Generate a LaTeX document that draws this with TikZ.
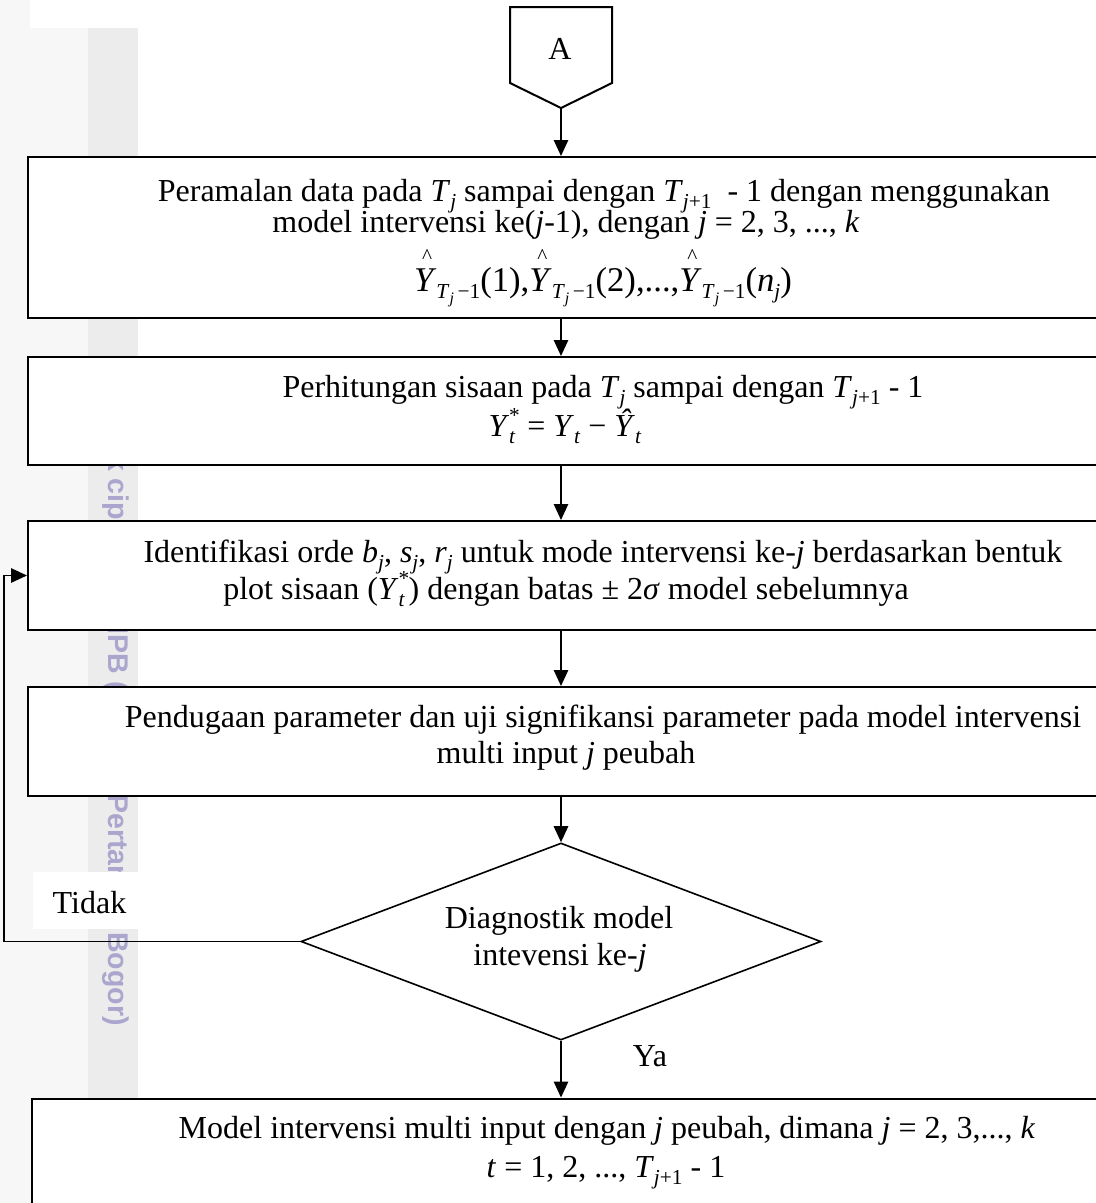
\documentclass[tikz,border=0pt]{standalone}
\usepackage{fontspec}
\setmainfont{Liberation Serif}
\newfontfamily\wmfont{Liberation Sans}
\usetikzlibrary{arrows.meta,shapes.geometric,fit}
\definecolor{lgray}{RGB}{247,247,247}
\definecolor{mgray}{RGB}{236,236,236}
\definecolor{wmcol}{RGB}{170,166,206}
\newcommand\mysub[1]{\raisebox{-0.22em}{\fontsize{8}{8}\selectfont #1}}
\newcommand\mysubsub[1]{\raisebox{-0.25em}{\fontsize{6}{6}\selectfont #1}}
\newcommand\mysupsub[2]{\makebox[0pt][l]{\raisebox{0.42em}{\fontsize{8}{8}\selectfont #1}}\raisebox{-0.22em}{\fontsize{8}{8}\selectfont #2}\hspace{0.12em}}
\newcommand\myYhat{\makebox[0pt][l]{\raisebox{10.5pt}{\hspace{3pt}\fontsize{8}{8}\selectfont\textasciicircum}}\textit{Y}}
\newcommand\mysubT{\mysub{\textit{T}\mysubsub{\textit{j}}\,−1}}
\begin{document}
\begin{tikzpicture}[x=0.375pt,y=-0.375pt,
  txt/.style={inner sep=0pt, anchor=base, font=\fontsize{12}{14}\selectfont},
  box/.style={draw=black, line width=0.75pt, fill=white, inner sep=0pt},
  arr/.style={-{Triangle[length=6pt,width=5.4pt]}, line width=0.6pt}]
\useasboundingbox (0,0) rectangle (1096,1203);
\clip (0,0) rectangle (1096,1203);
% background strips (scan margin)
\fill[lgray] (0,0) rectangle (138,1203);
\fill[white] (30,0) rectangle (138,28);
\fill[mgray] (88,28) rectangle (138,1203);
\node[rotate=-90, anchor=base west, inner sep=0pt, text=wmcol,
      font=\wmfont\bfseries\fontsize{10.7}{12}\selectfont] (wm) at (108,418)
      {Hak cipta milik IPB (Institut Pertanian Bogor)};
\fill[white] (33,872) rectangle (138,929);
% off-page connector A
\draw[line width=0.75pt, fill=white] (510,7) -- (612,7) -- (612,83) -- (561,108) -- (510,83) -- cycle;
\coordinate (Atip) at (561,108);
\node[txt] (A) at (560,59) {A};
% boxes
\node[box, fit={(28,157) (1110,318)}] (b1) {};
\node[box, fit={(28,357) (1110,465)}] (b2) {};
\node[box, fit={(28,521) (1110,630)}] (b3) {};
\node[box, fit={(28,687) (1110,796)}] (b4) {};
\node[box, line width=1.1pt, fit={(32,1099) (1110,1220)}] (b5) {};
\node[diamond, draw, line width=0.6pt, fill=white, inner sep=0pt,
      minimum width=195pt, minimum height=73.875pt] (dia) at (561,941.5) {};
% connectors
\coordinate (ax) at (561,0);
\coordinate (lx) at (4,575.5);
\draw[arr] (Atip) -- (b1.north -| Atip);
\draw[arr] (b1.south -| ax) -- (b2.north -| ax);
\draw[arr] (b2.south -| ax) -- (b3.north -| ax);
\draw[arr] (b3.south -| ax) -- (b4.north -| ax);
\draw[arr] (b4.south -| ax) -- (dia.north);
\draw[arr] (dia.south) -- (b5.north -| ax);
\draw[arr] (dia.west) -| (lx) -- (b3.west);
% texts
\node[txt] (t11) at (604,201) {Peramalan data pada \textit{T}\mysub{\textit{j}} sampai dengan \textit{T}\mysub{\textit{j}+1}\ \ - 1 dengan menggunakan};
\node[txt] (t12) at (566,232) {model intervensi ke(\textit{j}-1), dengan \textit{j} = 2, 3, ..., \textit{k}};
\node[txt, font=\fontsize{13}{15}\selectfont] (t13) at (603,291) {\myYhat\mysubT(1),\myYhat\mysubT(2),...,\myYhat\mysubT(\textit{n}\mysub{\textit{j}})};
\node[txt] (t21) at (603,397) {Perhitungan sisaan pada \textit{T}\mysub{\textit{j}} sampai dengan \textit{T}\mysub{\textit{j}+1} - 1};
\node[txt] (t22) at (565,436) {\textit{Y}\mysupsub{*}{\textit{t}}\ = \textit{Y}\mysub{\textit{t}}\ − \textit{Ŷ}\mysub{\textit{t}}};
\node[txt] (t31) at (603,562) {Identifikasi orde \textit{b}\mysub{\textit{j}}, \textit{s}\mysub{\textit{j}}, \textit{r}\mysub{\textit{j}} untuk mode intervensi ke-\textit{j} berdasarkan bentuk};
\node[txt] (t32) at (566,599) {plot sisaan (\textit{Y}\mysupsub{*}{\textit{t}}) dengan batas ± 2\textit{σ} model sebelumnya};
\node[txt] (t41) at (603,727) {Pendugaan parameter dan uji signifikansi parameter pada model intervensi};
\node[txt] (t42) at (566,763) {multi input \textit{j} peubah};
\node[txt] (d1) at (559,928) {Diagnostik model};
\node[txt] (d2) at (560,965) {intevensi ke-\textit{j}};
\node[txt] (ya) at (650,1066) {Ya};
\node[txt] (tidak) at (89.5,913) {Tidak};
\node[txt] (t51) at (607,1138) {Model intervensi multi input dengan \textit{j} peubah, dimana \textit{j} = 2, 3,..., \textit{k}};
\node[txt] (t52) at (606,1177) {\textit{t} = 1, 2, ..., \textit{T}\mysub{\textit{j}+1} - 1};
\end{tikzpicture}
\end{document}
